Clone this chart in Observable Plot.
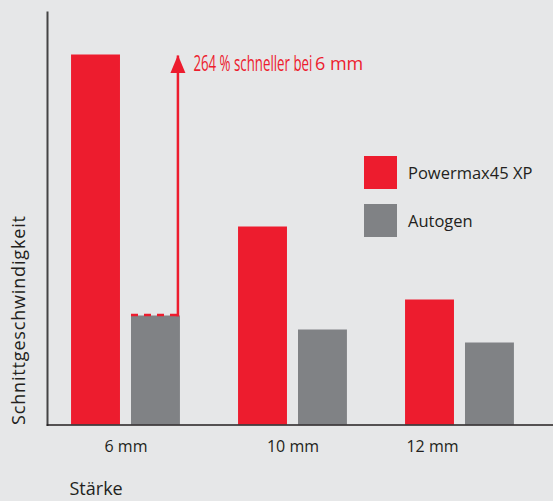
<!DOCTYPE html>
<html>
<head>
<meta charset="utf-8">
<script src="https://cdn.jsdelivr.net/npm/d3@7"></script>
<script src="https://cdn.jsdelivr.net/npm/@observablehq/plot@0.6"></script>
<style>
  html, body { margin: 0; padding: 0; background: #e6e7e8; }
  #wrap { position: relative; width: 553px; height: 501px; overflow: hidden; font-family: "Open Sans", sans-serif; }
  #legend { position: absolute; left: 364px; top: 156px; }
  .item { display: flex; align-items: center; height: 33px; margin-bottom: 15px; }
  .sw { width: 33px; height: 33px; margin-right: 11px; }
  .lab { font-size: 16.5px; color: #231f20; }
</style>
</head>
<body>
<div id="wrap">
  <div id="chart"></div>
  <div id="legend"></div>
</div>
<script>
// ---- data ----
const categories = ["6 mm", "10 mm", "12 mm"];
const seriesNames = ["Powermax45 XP", "Autogen"];
const powermax = [370, 198, 125];
const autogen = [109, 95, 82];
const annotation = "264 % schneller bei";
const annotationTail = "6 mm";
const yLabel = "Schnittgeschwindigkeit";
const xLabel = "Stärke";

const colors = {"Powermax45 XP": "#ed1c2e", "Autogen": "#808285"};
const ink = "#231f20";

// bar geometry (in group units)
const barOffsets = {"Powermax45 XP": [-0.326, -0.033], "Autogen": [0.033, 0.326]};

const rows = [];
categories.forEach((c, i) => {
  rows.push({cat: c, g: i, series: "Powermax45 XP", value: powermax[i]});
  rows.push({cat: c, g: i, series: "Autogen", value: autogen[i]});
});

const arrowX = 0.311;
const grayTop = autogen[0];
const redTop = powermax[0];

const triangleHead = {
  draw(context, l) {
    context.moveTo(-7.5, 0);
    context.lineTo(0, -l);
    context.lineTo(7.5, 0);
    context.closePath();
  }
};

const chart = Plot.plot({
  width: 553,
  height: 501,
  marginTop: 12,
  marginBottom: 76.5,
  marginLeft: 47,
  marginRight: 0,
  style: {background: "#e6e7e8", fontFamily: "Open Sans, sans-serif", color: ink},
  x: {type: "linear", domain: [-0.470, 2.560], axis: null},
  y: {domain: [0, 412.5], axis: null},
  marks: [
    Plot.rectY(rows, {
      x1: d => d.g + barOffsets[d.series][0],
      x2: d => d.g + barOffsets[d.series][1],
      y1: 0,
      y2: "value",
      fill: d => colors[d.series]
    }),
    // dashed reference at gray bar top
    Plot.ruleY([grayTop], {
      x1: barOffsets["Autogen"][0],
      x2: barOffsets["Autogen"][1],
      stroke: "#ed1c2e",
      strokeWidth: 2.5,
      strokeDasharray: "7,6",
      dy: -1
    }),
    // arrow shaft
    Plot.ruleX([arrowX], {y1: grayTop, y2: redTop, stroke: "#ed1c2e", strokeWidth: 2.5, dy: 1}),
    // arrow head
    Plot.vector([arrowX], {
      x: d => d, y: redTop, length: 18, anchor: "end",
      shape: triangleHead, fill: "#ed1c2e", stroke: "none"
    }),
    Plot.text([annotation], {
      x: arrowX, y: redTop, dx: 15.5, dy: 0, textAnchor: "start", lineAnchor: "top",
      fill: "#ed1c2e", fontSize: 22
    }),
    Plot.text([annotationTail], {
      x: arrowX, y: redTop, dx: 137, dy: 2.5, textAnchor: "start", lineAnchor: "top",
      fill: "#ed1c2e", fontSize: 18
    }),
    // axes lines
    Plot.frame({anchor: "left", stroke: "#444", strokeWidth: 2}),
    Plot.frame({anchor: "bottom", stroke: ink, strokeWidth: 1.6}),
    // tick labels
    Plot.text(categories.slice(0, 2), {
      x: (d, i) => i, frameAnchor: "bottom", lineAnchor: "top", dy: 16,
      fontSize: 16, fill: ink
    }),
    Plot.text(categories.slice(2), {
      x: () => 2, frameAnchor: "bottom", lineAnchor: "top", dy: 16, dx: -27.5,
      fontSize: 16, fill: ink
    }),
    // axis titles
    Plot.text([yLabel], {
      frameAnchor: "bottom-left", rotate: -90, textAnchor: "start", lineAnchor: "middle",
      dx: -28, fontSize: 18, fill: ink
    }),
    Plot.text([xLabel], {
      frameAnchor: "bottom-left", textAnchor: "start", lineAnchor: "top",
      dx: 22, dy: 57.5, fontSize: 18, fill: ink
    })
  ]
});

document.getElementById("chart").appendChild(chart);

chart.querySelectorAll("text").forEach(t => {
  // condense annotation text to match the narrow type
  if (t.textContent === annotation) {
    const w = t.getComputedTextLength();
    const s = 119 / w;
    const tr = t.getAttribute("transform") || "";
    t.setAttribute("transform", tr + ` scale(${s},1)`);
  }
  // spread the y label to the reference's length
  if (t.textContent === yLabel) {
    t.setAttribute("textLength", "209");
    t.setAttribute("lengthAdjust", "spacing");
  }
});

// legend
const legend = document.getElementById("legend");
seriesNames.forEach(s => {
  const item = document.createElement("div");
  item.className = "item";
  const sw = document.createElement("div");
  sw.className = "sw";
  sw.style.background = colors[s];
  const lab = document.createElement("span");
  lab.className = "lab";
  lab.textContent = s;
  item.appendChild(sw);
  item.appendChild(lab);
  legend.appendChild(item);
});
</script>
</body>
</html>
